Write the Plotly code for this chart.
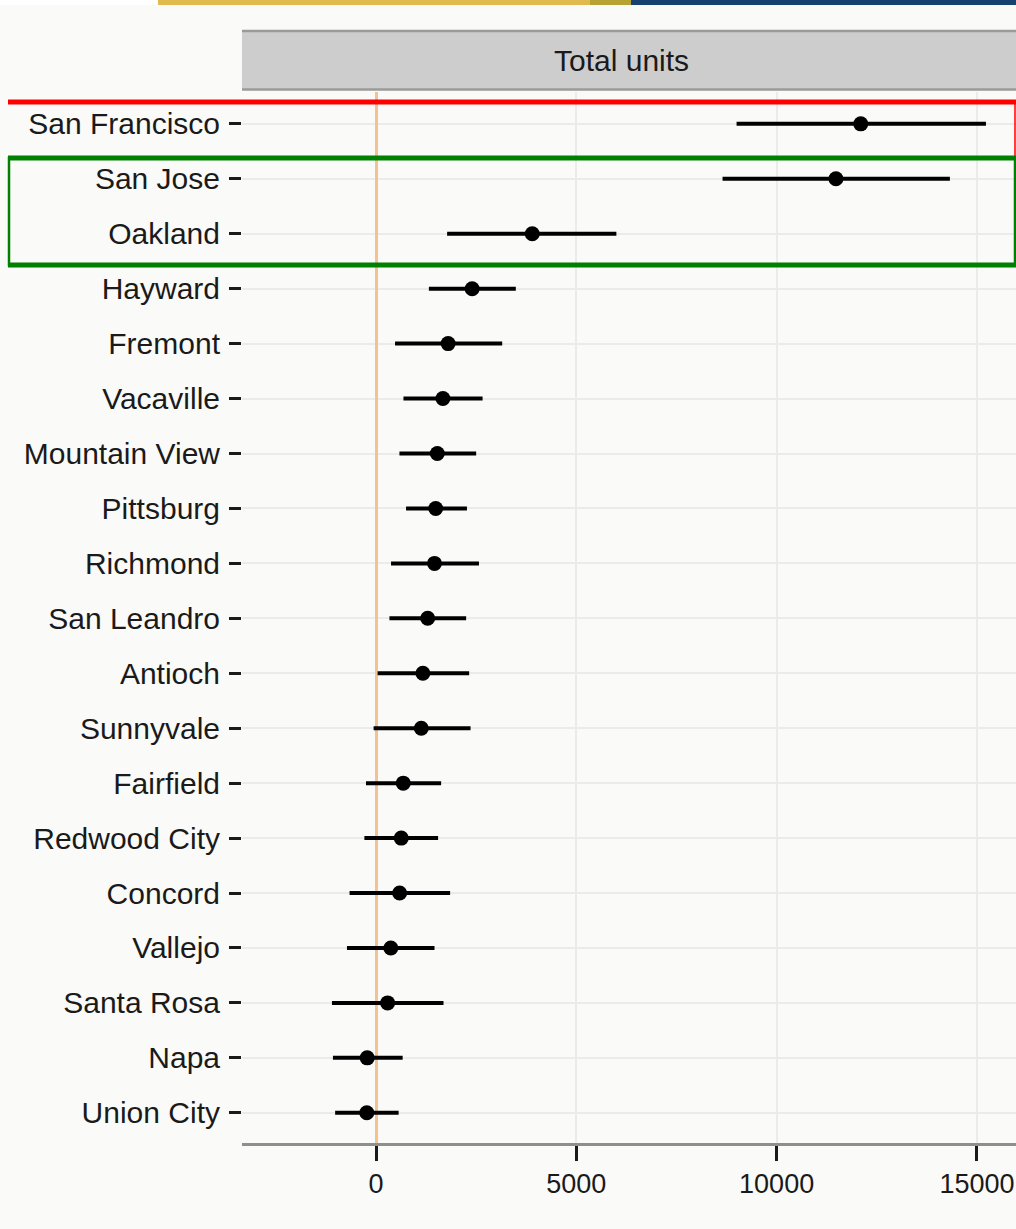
import plotly.graph_objects as go

cities = ["San Francisco", "San Jose", "Oakland", "Hayward", "Fremont", "Vacaville",
          "Mountain View", "Pittsburg", "Richmond", "San Leandro", "Antioch", "Sunnyvale",
          "Fairfield", "Redwood City", "Concord", "Vallejo", "Santa Rosa", "Napa", "Union City"]
estimate = [12100, 11480, 3900, 2400, 1800, 1670, 1530, 1490, 1460, 1290, 1170, 1130,
            680, 630, 590, 370, 290, -220, -230]
lower = [9000, 8650, 1775, 1320, 475, 685, 585, 750, 375, 335, 40, -60,
         -250, -290, -660, -725, -1100, -1075, -1020]
upper = [15225, 14325, 6000, 3490, 3150, 2660, 2500, 2270, 2570, 2250, 2325, 2360,
         1625, 1550, 1850, 1460, 1685, 665, 565]
x_ticks = [0, 5000, 10000, 15000]
panel_title = "Total units"

FONT = "Liberation Sans, Arial, Helvetica, sans-serif"
FS = 30
BG = "#FAFAF8"

W, H = 1016, 1229
ML, MR, MT, MB = 242, 0, 92, 86
PH = H - MT - MB


def py(pix):
    """pixel row -> paper y"""
    return (H - MB - pix) / PH


def px(pix):
    """pixel column -> paper x"""
    return (pix - ML) / (W - ML - MR)


fig = go.Figure()
fig.add_trace(go.Scatter(
    x=estimate, y=cities, mode="markers",
    marker=dict(color="black", size=15),
    error_x=dict(type="data", symmetric=False,
                 array=[u - e for u, e in zip(upper, estimate)],
                 arrayminus=[e - l for e, l in zip(estimate, lower)],
                 color="black", thickness=4, width=0),
    showlegend=False, hoverinfo="x+y"))

shapes = []
# top banner
for x0, x1, col in [(0, 158, "#FFFFFF"), (158, 590, "#E0BA4E"), (590, 631, "#B9A234"), (631, 1016, "#17426F")]:
    shapes.append(dict(type="rect", xref="paper", yref="paper", x0=px(x0), x1=px(x1), y0=py(5), y1=py(0),
                       fillcolor=col, line=dict(width=0), layer="above"))
# facet strip
shapes.append(dict(type="rect", xref="paper", yref="paper", x0=0, x1=1, y0=py(90), y1=py(31),
                   fillcolor="#CDCDCD", line=dict(width=0), layer="above"))
shapes.append(dict(type="line", xref="paper", yref="paper", x0=0, x1=1, y0=py(31), y1=py(31),
                   line=dict(color="#9A9A9A", width=2.5), layer="above"))
shapes.append(dict(type="line", xref="paper", yref="paper", x0=0, x1=1, y0=py(89.5), y1=py(89.5),
                   line=dict(color="#9A9A9A", width=2.5), layer="above"))
# red highlight box
shapes.append(dict(type="line", xref="paper", yref="paper", x0=px(8), x1=1, y0=py(102), y1=py(102),
                   line=dict(color="#FF0000", width=5), layer="above"))
shapes.append(dict(type="line", xref="paper", yref="paper", x0=px(1015), x1=px(1015), y0=py(102), y1=py(157),
                   line=dict(color="#FF0000", width=1.5), layer="above"))
# green highlight box
shapes.append(dict(type="rect", xref="paper", yref="paper", x0=px(9), x1=px(1015), y0=py(265), y1=py(158),
                   line=dict(color="#008000", width=2.5), layer="above"))
shapes.append(dict(type="line", xref="paper", yref="paper", x0=px(8), x1=1, y0=py(158), y1=py(158),
                   line=dict(color="#008000", width=5), layer="above"))
shapes.append(dict(type="line", xref="paper", yref="paper", x0=px(8), x1=1, y0=py(265), y1=py(265),
                   line=dict(color="#008000", width=5), layer="above"))

fig.update_layout(
    width=W, height=H,
    margin=dict(l=ML, r=MR, t=MT, b=MB, pad=0, autoexpand=False),
    paper_bgcolor=BG, plot_bgcolor=BG,
    font=dict(family=FONT, size=FS, color="#1A1A1A"),
    shapes=shapes,
    annotations=[dict(text=panel_title, xref="paper", yref="paper", x=px(621), y=py(61),
                      showarrow=False, font=dict(family=FONT, size=FS, color="#1A1A1A"),
                      xanchor="center", yanchor="middle")],
)

fig.update_xaxes(
    range=[-3345, 15975], tickvals=x_ticks, ticktext=[str(v) for v in x_ticks],
    showgrid=True, gridcolor="#EBEBEB", gridwidth=2,
    zeroline=True, zerolinecolor="#F3C28E", zerolinewidth=3,
    showline=True, linecolor="#8E8E8E", linewidth=3,
    ticks="outside", ticklen=15, tickwidth=2.5, tickcolor="#1A1A1A",
    tickfont=dict(family=FONT, size=27, color="#1A1A1A"),
    ticklabeloverflow="allow",
    automargin=False,
)
fig.update_yaxes(
    type="category", categoryorder="array", categoryarray=cities,
    range=[18.55, -0.58],
    showgrid=True, gridcolor="#EBEBEB", gridwidth=2,
    showline=False, zeroline=False,
    ticks="outside", ticklen=12, tickwidth=2.5, tickcolor="#1A1A1A",
    ticklabelstandoff=3,
    tickfont=dict(family=FONT, size=FS, color="#1A1A1A"),
    automargin=False,
)

fig.write_html("out.html", config={"displayModeBar": False},
               post_script="document.body.style.margin='0px';document.body.style.background='#FAFAF8';")
